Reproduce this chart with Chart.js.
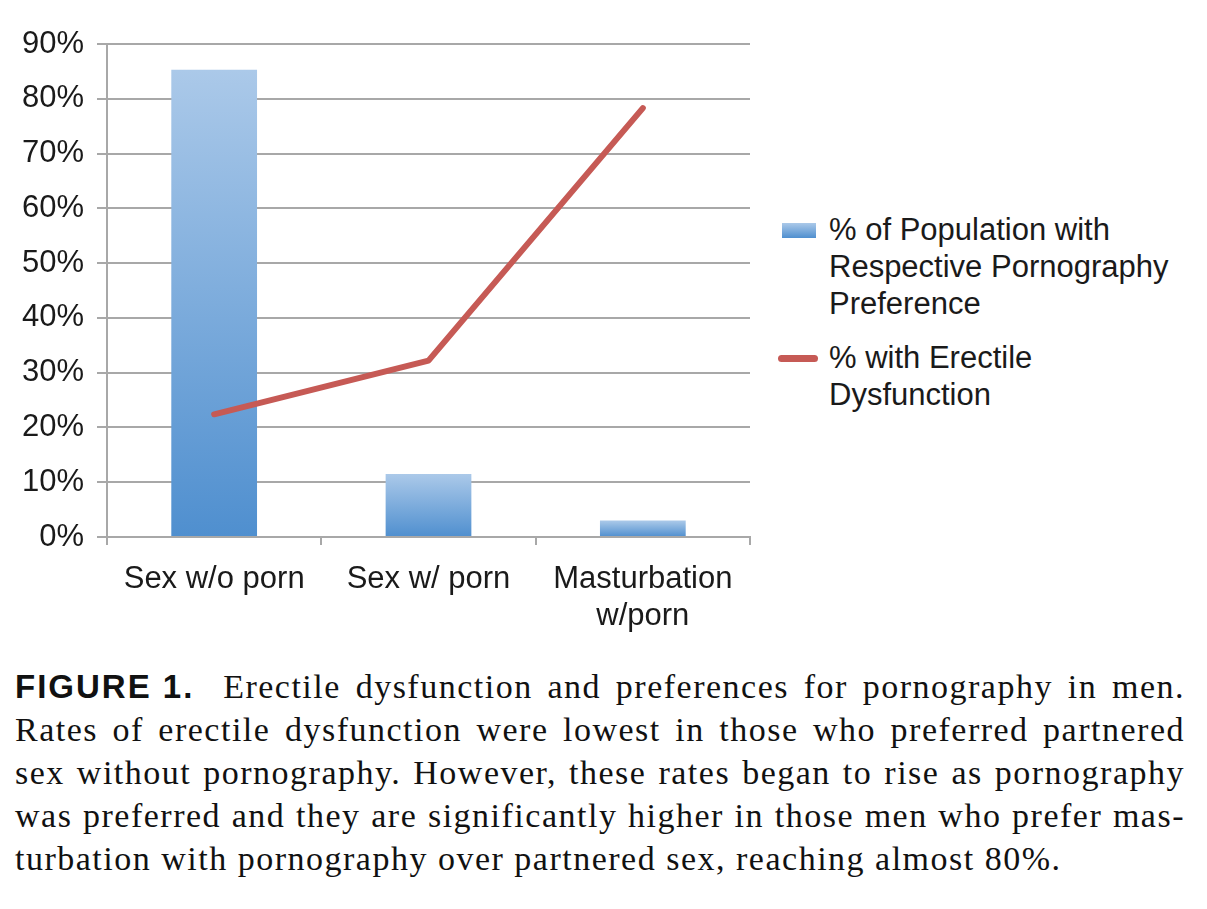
<!DOCTYPE html>
<html>
<head>
<meta charset="utf-8">
<script src="https://cdn.jsdelivr.net/npm/chart.js@4.4.0/dist/chart.umd.min.js"></script>
<style>
  body { margin: 0; background: #fff; width: 1207px; height: 909px; position: relative; overflow: hidden; }
  #chartBox { position: absolute; left: 0; top: 0; width: 770px; height: 650px; }
  #legend { position: absolute; left: 776px; top: 211px; font-family: "Liberation Sans", Arial, sans-serif; font-size: 31px; color: #1a1a1a; }
  .item { position: relative; padding-left: 53px; line-height: 37px; margin-bottom: 17px; }
  .swatch { position: absolute; left: 6px; }
  #caption { position: absolute; left: 15px; top: 665px; width: 1170px; font-family: "Liberation Serif", "Times New Roman", serif; font-size: 34px; letter-spacing: 1.5px; line-height: 43px; color: #111; }
  #caption div { text-align: justify; text-align-last: justify; white-space: nowrap; }
  #caption div.last { text-align-last: left; }
  #caption b { display: inline-block; font-family: "Liberation Sans", Arial, sans-serif; font-size: 33px; letter-spacing: 2px; margin-right: 14px; }
</style>
</head>
<body>
<div id="chartBox"><canvas id="myChart"></canvas></div>
<div id="legend"></div>
<div id="caption">
  <div><b>FIGURE 1.</b> Erectile dysfunction and preferences for pornography in men.</div>
  <div>Rates of erectile dysfunction were lowest in those who preferred partnered</div>
  <div>sex without pornography. However, these rates began to rise as pornography</div>
  <div>was preferred and they are significantly higher in those men who prefer mas-</div>
  <div class="last">turbation with pornography over partnered sex, reaching almost 80%.</div>
</div>
<script>
// Data
var categories = [['Sex w/o porn'], ['Sex w/ porn'], ['Masturbation', 'w/porn']];
var populationPct = [85.3, 11.5, 3.0];
var erectilePct = [22.4, 32.2, 78.3];
var seriesLabels = [
    ['% of Population with', 'Respective Pornography', 'Preference'],
    ['% with Erectile', 'Dysfunction']
];
var yTicks = [0, 10, 20, 30, 40, 50, 60, 70, 80, 90];

var barTop = '#abc9e9';
var barBottom = '#4f8fcf';
var lineColor = '#c65a55';
var gridColor = '#a8a8a8';
var fontFamily = '"Liberation Sans", Arial, sans-serif';

// Gradient for each bar, from its top down to the axis
function barGradient(context) {
    var chart = context.chart;
    if (!chart.chartArea || context.type !== 'data') return barBottom;
    var y = chart.scales.y;
    var top = y.getPixelForValue(context.raw);
    var bottom = y.getPixelForValue(0);
    var g = chart.ctx.createLinearGradient(0, top, 0, bottom);
    g.addColorStop(0, barTop);
    g.addColorStop(1, barBottom);
    return g;
}

var ctx = document.getElementById('myChart').getContext('2d');
var myChart = new Chart(ctx, {
    data: {
        labels: categories,
        datasets: [{
            type: 'line',
            label: seriesLabels[1].join(' '),
            data: erectilePct,
            borderColor: lineColor,
            backgroundColor: lineColor,
            borderWidth: 6,
            pointRadius: 0,
            borderCapStyle: 'round',
            borderJoinStyle: 'round',
            tension: 0,
            order: 0
        }, {
            type: 'bar',
            label: seriesLabels[0].join(' '),
            data: populationPct,
            backgroundColor: barGradient,
            barPercentage: 0.4,
            categoryPercentage: 1.0,
            order: 1
        }]
    },
    options: {
        responsive: true,
        maintainAspectRatio: false,
        animation: false,
        layout: { padding: { top: 44, right: 20, left: 0, bottom: 0 } },
        plugins: { legend: { display: false }, tooltip: { enabled: false } },
        scales: {
            x: {
                offset: true,
                afterFit: function(scale) { scale.height = 113; },
                grid: { drawOnChartArea: false, drawTicks: true, tickLength: 8, color: gridColor, lineWidth: 2, offset: true },
                border: { color: gridColor, width: 2 },
                ticks: { color: '#1a1a1a', font: { family: fontFamily, size: 31 }, padding: 16, maxRotation: 0 }
            },
            y: {
                min: 0,
                max: 90,
                afterFit: function(scale) { scale.width = 107; },
                afterBuildTicks: function(scale) { scale.ticks = yTicks.map(function(v) { return { value: v }; }); },
                grid: { color: gridColor, lineWidth: 2, tickLength: 10 },
                border: { color: gridColor, width: 2 },
                ticks: {
                    color: '#1a1a1a',
                    font: { family: fontFamily, size: 31 },
                    padding: 13,
                    callback: function(v) { return v + '%'; }
                }
            }
        }
    }
});

// HTML legend built from the series labels
var legend = document.getElementById('legend');
seriesLabels.forEach(function(lines, i) {
    var item = document.createElement('div');
    item.className = 'item';
    var sw = document.createElement('div');
    sw.className = 'swatch';
    if (i === 0) {
        sw.style.cssText = 'left:6px;top:12px;width:34px;height:15px;background:linear-gradient(' + barTop + ',' + barBottom + ');';
    } else {
        sw.style.cssText = 'left:2px;top:16px;width:40px;height:7px;border-radius:4px;background:' + lineColor + ';';
    }
    item.appendChild(sw);
    lines.forEach(function(t) {
        var d = document.createElement('div');
        d.textContent = t;
        item.appendChild(d);
    });
    legend.appendChild(item);
});
</script>
</body>
</html>
